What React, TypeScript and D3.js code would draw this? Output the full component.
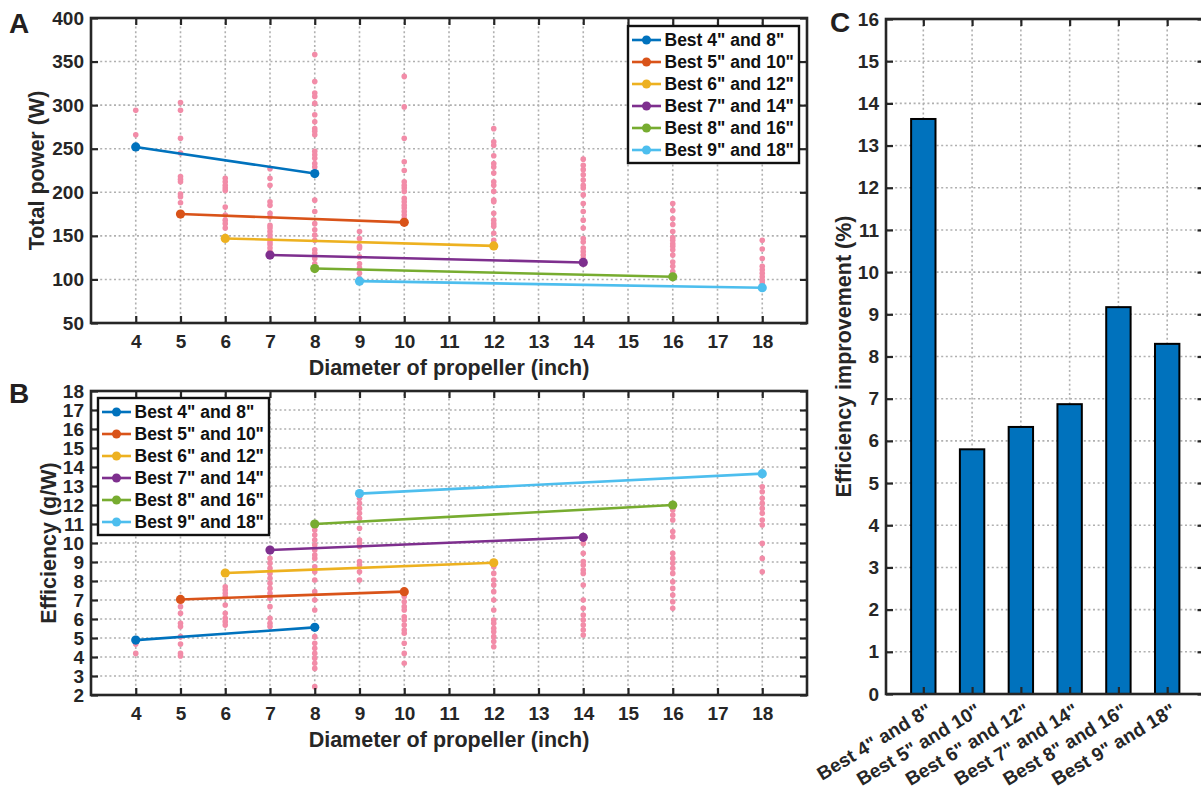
import React, { useEffect, useRef } from "react";
import * as d3 from "d3";

// propeller diameters that were sampled (inch)
const diameters = [4, 5, 6, 7, 8, 9, 10, 12, 14, 16, 18];

// all sampled configurations, total power (W), one list per diameter
const powerSamples: number[][] = [
  [294, 266],
  [303, 294, 262, 245, 218, 215, 212, 198, 195, 188],
  [216, 212, 208, 205, 202, 183, 174, 168, 164, 159],
  [227, 216, 208, 189, 185, 176, 172, 162, 159, 155, 151, 147, 143, 140, 136, 132],
  [358, 327, 314, 310, 302, 289, 281, 273, 270, 266, 247, 243, 239, 233, 229, 191, 178, 164, 157, 151, 145, 134, 130, 124, 118],
  [155, 147, 138, 136, 126, 118, 113, 107, 101],
  [333, 298, 262, 235, 225, 212, 208, 205, 201, 193, 189, 185, 182, 178, 174, 170],
  [273, 258, 254, 242, 233, 229, 222, 212, 208, 201, 191, 189, 176, 168, 164, 161, 153, 145, 141],
  [238, 231, 226, 220, 214, 208, 205, 197, 187, 178, 168, 159, 147, 143, 136, 132, 128, 124],
  [187, 179, 170, 163, 155, 148, 145, 141, 138, 134, 128, 120, 115, 109],
  [145, 135, 124, 115, 111, 107, 103, 99, 96, 93],
];

// same configurations, efficiency (g/W)
const effSamples: number[][] = [
  [4.68, 4.19],
  [6.65, 6.3, 5.77, 5.6, 5.07, 4.68, 4.19, 4.05],
  [7.7, 7.53, 7.35, 7.18, 6.74, 6.3, 6.04, 5.86, 5.68],
  [9.19, 8.93, 8.67, 8.4, 8.14, 7.88, 7.61, 7.35, 7.09, 6.65, 6.04, 5.77, 5.6],
  [10.68, 10.42, 10.16, 9.89, 9.63, 9.37, 9.19, 8.75, 8.49, 8.05, 7.44, 7.0, 6.47, 5.07, 4.72, 4.46, 4.19, 3.93, 3.67, 3.4, 2.44],
  [12.35, 12.09, 11.82, 11.56, 11.3, 10.77, 10.16, 9.98, 9.81, 9.02, 8.84, 8.49, 8.05],
  [7.18, 6.91, 6.65, 6.47, 6.12, 5.95, 5.68, 5.42, 5.25, 4.72, 4.19, 3.67],
  [8.75, 8.4, 8.05, 7.79, 7.44, 7.0, 6.47, 5.95, 5.77, 5.51, 5.33, 5.07, 4.81, 4.54],
  [9.98, 9.46, 9.02, 8.84, 8.58, 8.4, 7.79, 7.0, 6.56, 6.21, 5.95, 5.68, 5.42, 5.16],
  [11.74, 11.47, 11.21, 10.6, 10.33, 9.46, 9.19, 8.93, 8.67, 8.4, 7.96, 7.61, 7.26, 6.91, 6.56],
  [12.96, 12.7, 12.35, 12.09, 11.82, 11.56, 11.21, 10.95, 9.98, 9.19, 8.49],
];

// best pairs (small prop, large prop)
const pairLabels = [
  'Best 4" and 8"',
  'Best 5" and 10"',
  'Best 6" and 12"',
  'Best 7" and 14"',
  'Best 8" and 16"',
  'Best 9" and 18"',
];
const pairSmall = [4, 5, 6, 7, 8, 9];
const pairLarge = [8, 10, 12, 14, 16, 18];
const bestPowerSmall = [252, 175, 147, 128, 112.5, 98];
const bestPowerLarge = [221.5, 165.5, 138.5, 119.5, 103, 90.5];
const bestEffSmall = [4.89, 7.03, 8.42, 9.63, 11.0, 12.6];
const bestEffLarge = [5.56, 7.44, 8.96, 10.3, 12.0, 13.65];

// panel C, efficiency improvement (%)
const improvement = [13.63, 5.8, 6.33, 6.87, 9.17, 8.3];

// tick values
const xTicksAB = d3.range(4, 19);
const yTicksA = d3.range(50, 401, 50);
const yTicksB = d3.range(2, 19);
const yTicksC = d3.range(0, 17);

const seriesColors = ["#0072BD", "#D95319", "#EDB120", "#7E2F8E", "#77AC30", "#4DBEEE"];

const FONT = '"Liberation Sans", Arial, Helvetica, sans-serif';
const AXIS_COLOR = "#262626";
const PINK = "#F28CA8";

function styleAxis(sel) {
  sel.select(".domain").remove();
  sel.selectAll("line").attr("stroke", AXIS_COLOR).attr("stroke-width", 2.2);
  sel
    .selectAll("text")
    .attr("font-family", FONT)
    .attr("font-size", 19)
    .attr("font-weight", "bold")
    .attr("fill", AXIS_COLOR);
}

function drawGrid(g, x, y, xTicks, yTicks) {
  const grid = g.append("g");
  grid
    .selectAll("line.gx")
    .data(xTicks)
    .join("line")
    .attr("x1", (d) => x(d))
    .attr("x2", (d) => x(d))
    .attr("y1", y.range()[0])
    .attr("y2", y.range()[1]);
  grid
    .selectAll("line.gy")
    .data(yTicks)
    .join("line")
    .attr("x1", x.range()[0])
    .attr("x2", x.range()[1])
    .attr("y1", (d) => y(d))
    .attr("y2", (d) => y(d));
  grid
    .selectAll("line")
    .attr("stroke", "#b0b0b0")
    .attr("stroke-width", 1.6)
    .attr("stroke-dasharray", "2,2.6");
}

function drawAxes(g, x, y, xTicks, yTicks, xFormat) {
  const [x0, x1] = x.range();
  const [y0, y1] = y.range();
  g.append("g")
    .attr("transform", `translate(0,${y0})`)
    .call(d3.axisBottom(x).tickValues(xTicks).tickSizeInner(-7).tickSizeOuter(0).tickPadding(12).tickFormat(xFormat))
    .call(styleAxis);
  g.append("g")
    .attr("transform", `translate(0,${y1})`)
    .call(d3.axisTop(x).tickValues(xTicks).tickSizeInner(-7).tickSizeOuter(0).tickFormat(() => ""))
    .call(styleAxis);
  g.append("g")
    .attr("transform", `translate(${x0},0)`)
    .call(d3.axisLeft(y).tickValues(yTicks).tickSizeInner(-7).tickSizeOuter(0).tickPadding(7).tickFormat(d3.format("d")))
    .call(styleAxis);
  g.append("g")
    .attr("transform", `translate(${x1},0)`)
    .call(d3.axisRight(y).tickValues(yTicks).tickSizeInner(-7).tickSizeOuter(0).tickFormat(() => ""))
    .call(styleAxis);
  g.append("rect")
    .attr("x", x0)
    .attr("y", y1)
    .attr("width", x1 - x0)
    .attr("height", y0 - y1)
    .attr("fill", "none")
    .attr("stroke", AXIS_COLOR)
    .attr("stroke-width", 2.6);
}

function drawLegend(g, left, top) {
  const rowH = 22;
  const lg = g.append("g").attr("transform", `translate(${left},${top})`);
  lg.append("rect")
    .attr("width", 171)
    .attr("height", 137)
    .attr("fill", "#fff")
    .attr("stroke", "#111")
    .attr("stroke-width", 2.4);
  pairLabels.forEach((label, i) => {
    const cy = 14 + i * rowH;
    lg.append("line")
      .attr("x1", 4)
      .attr("x2", 33)
      .attr("y1", cy)
      .attr("y2", cy)
      .attr("stroke", seriesColors[i])
      .attr("stroke-width", 2.6);
    lg.append("circle").attr("cx", 18.5).attr("cy", cy).attr("r", 4.5).attr("fill", seriesColors[i]);
    lg.append("text")
      .attr("x", 36.5)
      .attr("y", cy + 6.2)
      .attr("font-family", FONT)
      .attr("font-size", 17.5)
      .attr("font-weight", "bold")
      .attr("fill", "#111")
      .text(label);
  });
}

function drawScatterPanel(g, x, y, samples, small, large) {
  const pts = diameters.flatMap((d, i) => samples[i].map((v) => ({ d, v })));
  g.append("g")
    .selectAll("circle")
    .data(pts)
    .join("circle")
    .attr("cx", (p) => x(p.d))
    .attr("cy", (p) => y(p.v))
    .attr("r", 2.8)
    .attr("fill", PINK);

  const line = d3
    .line()
    .x((p) => x(p.d))
    .y((p) => y(p.v));
  pairLabels.forEach((_, i) => {
    const seg = [
      { d: pairSmall[i], v: small[i] },
      { d: pairLarge[i], v: large[i] },
    ];
    g.append("path")
      .datum(seg)
      .attr("d", line)
      .attr("fill", "none")
      .attr("stroke", seriesColors[i])
      .attr("stroke-width", 2.6);
    g.append("g")
      .selectAll("circle")
      .data(seg)
      .join("circle")
      .attr("cx", (p) => x(p.d))
      .attr("cy", (p) => y(p.v))
      .attr("r", 4.6)
      .attr("fill", seriesColors[i]);
  });
}

function label(svg, text, x, y, size, rotate = 0, anchor = "middle", fill = AXIS_COLOR) {
  svg
    .append("text")
    .attr("transform", `translate(${x},${y}) rotate(${rotate})`)
    .attr("text-anchor", anchor)
    .attr("font-family", FONT)
    .attr("font-size", size)
    .attr("font-weight", "bold")
    .attr("fill", fill)
    .text(text);
}

const App = () => {
  const ref = useRef(null);

  useEffect(() => {
    const svg = d3.select(ref.current);
    svg.selectAll("*").remove();

    // Panel A: total power
    const xA = d3.scaleLinear().domain([3, 19]).range([91, 807]);
    const yA = d3.scaleLinear().domain([50, 400]).range([323, 18]);
    const gA = svg.append("g");
    drawGrid(gA, xA, yA, xTicksAB, yTicksA);
    drawScatterPanel(gA, xA, yA, powerSamples, bestPowerSmall, bestPowerLarge);
    drawAxes(gA, xA, yA, xTicksAB, yTicksA, d3.format("d"));
    drawLegend(gA, 628, 26);

    // Panel B: efficiency
    const xB = d3.scaleLinear().domain([3, 19]).range([91, 807]);
    const yB = d3.scaleLinear().domain([2, 18]).range([695, 391]);
    const gB = svg.append("g");
    drawGrid(gB, xB, yB, xTicksAB, yTicksB);
    drawScatterPanel(gB, xB, yB, effSamples, bestEffSmall, bestEffLarge);
    drawAxes(gB, xB, yB, xTicksAB, yTicksB, d3.format("d"));
    drawLegend(gB, 98, 398);

    // Panel C: efficiency improvement bars
    const cats = d3.range(1, pairLabels.length + 1);
    const xC = d3.scaleLinear().domain([0.235, 6.765]).range([886, 1204.5]);
    const yC = d3.scaleLinear().domain([0, 16]).range([694, 19]);
    const gC = svg.append("g");
    drawGrid(gC, xC, yC, cats, yTicksC);
    const barW = xC(1.25) - xC(0.75);
    gC.append("g")
      .selectAll("rect")
      .data(improvement)
      .join("rect")
      .attr("x", (v, i) => xC(cats[i]) - barW / 2)
      .attr("y", (v) => yC(v))
      .attr("width", barW)
      .attr("height", (v) => yC(0) - yC(v))
      .attr("fill", "#0072BD")
      .attr("stroke", "#000")
      .attr("stroke-width", 2);
    drawAxes(gC, xC, yC, cats, yTicksC, () => "");
    cats.forEach((c, i) => {
      label(gC, pairLabels[i], xC(c) + 10, 714, 19, -31, "end");
    });

    // axis titles
    label(svg, "Diameter of propeller (inch)", 449, 375, 21.5);
    label(svg, "Diameter of propeller (inch)", 449, 747, 21.5);
    label(svg, "Total power (W)", 44, 170.5, 21.5, -90);
    label(svg, "Efficiency (g/W)", 56, 543, 21.5, -90);
    label(svg, "Efficiency improvement (%)", 851, 356.5, 21.5, -90);

    // panel letters
    label(svg, "A", 9, 32.5, 28, 0, "start", "#231f20");
    label(svg, "B", 9, 403, 28, 0, "start", "#231f20");
    label(svg, "C", 830, 32, 28, 0, "start", "#231f20");
  }, []);

  return (
    <svg
      ref={ref}
      width={1201}
      height={791}
      style={{ position: "absolute", left: 0, top: 0, background: "#fff" }}
    />
  );
};

export default App;
